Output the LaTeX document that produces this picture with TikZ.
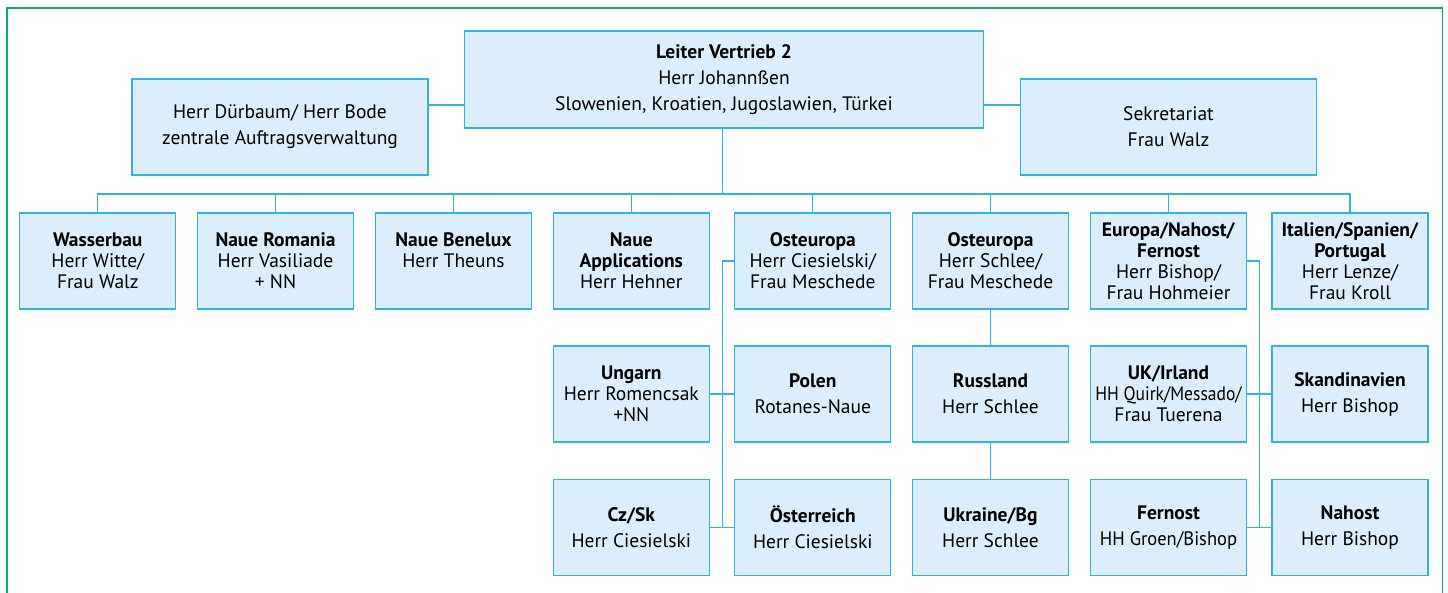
\documentclass[tikz,border=0pt]{standalone}
\usepackage{fontspec}
\setmainfont{PT Sans}
\definecolor{bordc}{HTML}{2FB4EA}
\definecolor{fillc}{HTML}{DCEEFB}
\definecolor{framec}{HTML}{12A878}
\begin{document}
\begin{tikzpicture}[x=1pt,y=-1pt,
  box/.style={draw=bordc, fill=fillc, line width=1.3pt, minimum width=156pt, minimum height=96pt, inner sep=0pt, align=center},
  loose/.style={font={\fontsize{19.5}{26}\selectfont}},
  dense/.style={font={\fontsize{19.5}{21}\selectfont}},
  conn/.style={draw=bordc, line width=1.3pt},
  frame/.style={draw=framec, line width=1.4pt}]
\useasboundingbox (0,0) rectangle (1448,592);
\draw[frame] (7,600) -- (7,8) -- (1442.7,8) -- (1442.7,600);
% top row
\node[box, loose, minimum width=519pt, minimum height=97pt, text depth=4pt] (L) at (724,79.5) {\textbf{Leiter Vertrieb 2}\\Herr Johannßen\\Slowenien, Kroatien, Jugoslawien, Türkei};
\node[box, loose, minimum width=296pt] (D) at (280,127) {Herr Dürbaum/ Herr Bode\\zentrale Auftragsverwaltung};
\node[box, loose, minimum width=296pt] (S) at (1168.5,127) {Sekretariat\\Frau Walz};
% row 1
\node[box, dense] (W) at (97.8,261) {\textbf{Wasserbau}\\Herr Witte/\\Frau Walz};
\node[box, dense] (R) at (275.5,261) {\textbf{Naue Romania}\\Herr Vasiliade\\+ NN};
\node[box, dense] (B) at (453.4,261) {\textbf{Naue Benelux}\\Herr Theuns\\\mbox{}};
\node[box, dense] (A) at (631.3,261) {\textbf{Naue}\\\textbf{Applications}\\Herr Hehner};
\node[box, dense] (O1) at (812.8,261) {\textbf{Osteuropa}\\Herr Ciesielski/\\Frau Meschede};
\node[box, dense] (O2) at (990.5,261) {\textbf{Osteuropa}\\Herr Schlee/\\Frau Meschede};
\node[box, dense] (E) at (1168.5,261) {\textbf{Europa/Nahost/}\\\textbf{Fernost}\\Herr Bishop/\\Frau Hohmeier};
\node[box, dense] (I) at (1350,261) {\textbf{Italien/Spanien/}\\\textbf{Portugal}\\Herr Lenze/\\Frau Kroll};
% row 2
\node[box, dense] (U) at (631.3,394) {\textbf{Ungarn}\\Herr Romencsak\\+NN};
\node[box, loose] (P) at (812.8,394) {\textbf{Polen}\\Rotanes-Naue};
\node[box, loose] (Ru) at (990.5,394) {\textbf{Russland}\\Herr Schlee};
\node[box, dense] (UK) at (1168.5,394) {\textbf{UK/Irland}\\\scalebox{0.9}[1]{HH Quirk/Messado/}\\Frau Tuerena};
\node[box, loose] (Sk) at (1350,394) {\textbf{Skandinavien}\\Herr Bishop};
% row 3
\node[box, loose] (C) at (631.3,527.5) {\textbf{Cz/Sk}\\Herr Ciesielski};
\node[box, loose] (Oe) at (812.8,527.5) {\textbf{Österreich}\\Herr Ciesielski};
\node[box, loose] (Uk) at (990.5,527.5) {\textbf{Ukraine/Bg}\\Herr Schlee};
\node[box, loose] (F) at (1168.5,527.5) {\textbf{Fernost}\\\scalebox{0.95}[1]{HH Groen/Bishop}};
\node[box, loose] (N) at (1350,527.5) {\textbf{Nahost}\\Herr Bishop};
% connectors
\coordinate (bus) at (0,194);
\coordinate (h) at (0,105);
\coordinate (vl) at (722.3,0);
\coordinate (vr) at (1259.3,0);
\draw[conn] (D.east |- h) -- (L.west |- h);
\draw[conn] (L.east |- h) -- (S.west |- h);
\draw[conn] (L.south -| vl) -- (vl |- bus);
\draw[conn] (W.north) -- (W.north |- bus) -- (I.north |- bus) -- (I.north);
\foreach \n in {R,B,A,O1,O2,E} { \draw[conn] (\n.north) -- (\n.north |- bus); }
\draw[conn] (O1.west) -- (O1.west -| vl) -- (Oe.west -| vl);
\draw[conn] (U.east) -- (P.west);
\draw[conn] (C.east) -- (Oe.west);
\draw[conn] (O2.south) -- (Ru.north);
\draw[conn] (Ru.south) -- (Uk.north);
\draw[conn] (E.east) -- (E.east -| vr) -- (N.west -| vr);
\draw[conn] (UK.east) -- (Sk.west);
\draw[conn] (F.east) -- (N.west);
\end{tikzpicture}
\end{document}
